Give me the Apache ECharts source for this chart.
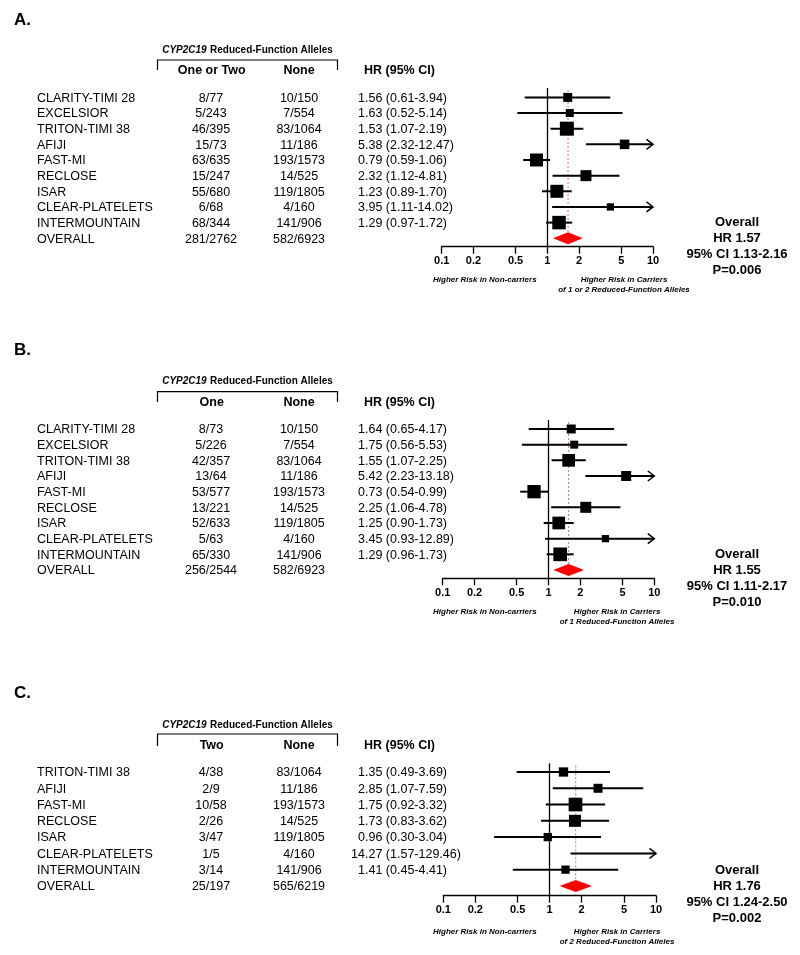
<!DOCTYPE html>
<html><head><meta charset="utf-8">
<script src="https://cdn.jsdelivr.net/npm/echarts@6/dist/echarts.min.js"></script>
<style>html,body{margin:0;padding:0;background:#fff}#c{width:800px;height:955px}</style>
</head><body><div id="c"></div><script>
// ---- data ----
const tickValues = [0.1, 0.2, 0.5, 1, 2, 5, 10];
const tickLabels = ['0.1', '0.2', '0.5', '1', '2', '5', '10'];

const studiesAB = ['CLARITY-TIMI 28','EXCELSIOR','TRITON-TIMI 38','AFIJI','FAST-MI','RECLOSE','ISAR','CLEAR-PLATELETS','INTERMOUNTAIN'];

const carriersA = ['8/77','5/243','46/395','15/73','63/635','15/247','55/680','6/68','68/344'];
const noncarriersA = ['10/150','7/554','83/1064','11/186','193/1573','14/525','119/1805','4/160','141/906'];
const hrA = [1.56, 1.63, 1.53, 5.38, 0.79, 2.32, 1.23, 3.95, 1.29];
const loA = [0.61, 0.52, 1.07, 2.32, 0.59, 1.12, 0.89, 1.11, 0.97];
const hiA = [3.94, 5.14, 2.19, 12.47, 1.06, 4.81, 1.70, 14.02, 1.72];
const weightA = [9, 8, 14, 9.5, 13, 11, 13, 7.3, 13.5];
const totalsA = ['281/2762', '582/6923'];
const overallA = [1.57, 1.13, 2.16, 0.006];

const carriersB = ['8/73','5/226','42/357','13/64','53/577','13/221','52/633','5/63','65/330'];
const noncarriersB = ['10/150','7/554','83/1064','11/186','193/1573','14/525','119/1805','4/160','141/906'];
const hrB = [1.64, 1.75, 1.55, 5.42, 0.73, 2.25, 1.25, 3.45, 1.29];
const loB = [0.65, 0.56, 1.07, 2.23, 0.54, 1.06, 0.90, 0.93, 0.96];
const hiB = [4.17, 5.53, 2.25, 13.18, 0.99, 4.78, 1.73, 12.89, 1.73];
const weightB = [9, 8, 12.7, 10, 13.3, 11, 12.7, 7.3, 13.7];
const totalsB = ['256/2544', '582/6923'];
const overallB = [1.55, 1.11, 2.17, 0.010];

const studiesC = ['TRITON-TIMI 38','AFIJI','FAST-MI','RECLOSE','ISAR','CLEAR-PLATELETS','INTERMOUNTAIN'];
const carriersC = ['4/38','2/9','10/58','2/26','3/47','1/5','3/14'];
const noncarriersC = ['83/1064','11/186','193/1573','14/525','119/1805','4/160','141/906'];
const hrC = [1.35, 2.85, 1.75, 1.73, 0.96, 14.27, 1.41];
const loC = [0.49, 1.07, 0.92, 0.83, 0.30, 1.57, 0.45];
const hiC = [3.69, 7.59, 3.32, 3.62, 3.04, 129.46, 4.41];
const weightC = [9.3, 9, 13.7, 12, 8.3, 8, 8.3];
const totalsC = ['25/197', '565/6219'];
const overallC = [1.76, 1.24, 2.50, 0.002];

const panelLabels = ['A.', 'B.', 'C.'];
const groupHeaders = ['One or Two', 'One', 'Two'];
const carrierNotes = ['of 1 or 2 Reduced-Function Alleles', 'of 1 Reduced-Function Alleles', 'of 2 Reduced-Function Alleles'];

// ---- layout (positions / styles only) ----
const FF = '"Liberation Sans", Arial, Helvetica, sans-serif';
const layout = [
  {grid:{left:441.7, top:88, width:211.3, height:158.7}, yMin:-0.6, yMax:9.54,
   label:20.7, cyp:50, bracket:60, bracketEnd:70, header:71, note:280, noteC:624},
  {grid:{left:442.7, top:420, width:211.6, height:158.3}, yMin:-0.574, yMax:9.53,
   label:350.7, cyp:381.7, bracket:391.7, bracketEnd:402, header:402.7, note:612, noteC:617},
  {grid:{left:443.3, top:763.3, width:212.7, height:132.4}, yMin:-0.534, yMax:7.6,
   label:693, cyp:725, bracket:734, bracketEnd:746, header:746, note:932, noteC:617}
];
const panels = [
  {studies:studiesAB, c1:carriersA, c2:noncarriersA, hr:hrA, lo:loA, hi:hiA, w:weightA, tot:totalsA, ov:overallA},
  {studies:studiesAB, c1:carriersB, c2:noncarriersB, hr:hrB, lo:loB, hi:hiB, w:weightB, tot:totalsB, ov:overallB},
  {studies:studiesC, c1:carriersC, c2:noncarriersC, hr:hrC, lo:loC, hi:hiC, w:weightC, tot:totalsC, ov:overallC}
];

const fmt = v => v.toFixed(2);
function txt(text, x, y, font, align, vAlign) {
  return {type:'text', style:{text, x, y, font, fill:'#000',
    align:align||'left', textAlign:align||'left', verticalAlign:vAlign||'middle', textVerticalAlign:vAlign||'middle'}};
}
const fReg = 'normal 12.5px ' + FF;
const fBold = 'bold 12.5px ' + FF;

const chart = echarts.init(document.getElementById('c'), null, {renderer:'canvas'});
const series = [];
const graphic = [];

panels.forEach((P, k) => {
  const L = layout[k];
  const n = P.studies.length;
  // forest rows
  series.push({
    type:'custom', xAxisIndex:k, yAxisIndex:k, clip:false, silent:true,
    data: P.hr.map((h, i) => [Math.log10(h), i]),
    encode:{x:0, y:1},
    renderItem(params, api) {
      const i = params.dataIndex;
      const y = api.coord([0, i])[1];
      const X = v => api.coord([Math.log10(v), i])[0];
      const ch = [];
      const xl = X(Math.max(P.lo[i], 0.1)), xh = X(Math.min(P.hi[i], 10));
      ch.push({type:'line', shape:{x1:xl, y1:y, x2:xh, y2:y}, style:{stroke:'#000', lineWidth:2}});
      if (P.hi[i] > 10) ch.push({type:'polyline', shape:{points:[[xh-6.5, y-5],[xh, y],[xh-6.5, y+5]]}, style:{stroke:'#000', lineWidth:1.5, fill:null}});
      if (P.hr[i] <= 10) {
        const xc = X(P.hr[i]), s = P.w[i];
        ch.push({type:'rect', shape:{x:xc-s/2, y:y-s/2, width:s, height:s}, style:{fill:'#000'}});
      }
      return {type:'group', children:ch};
    },
    markLine:{silent:true, symbol:'none', label:{show:false}, animation:false,
      lineStyle:{color:'#000', width:1.3, type:'solid'}, data:[{xAxis:0}]}
  });
  // overall diamond + dotted line + summary text
  series.push({
    type:'custom', xAxisIndex:k, yAxisIndex:k, clip:false, silent:true, z:1,
    data:[[Math.log10(P.ov[0]), n]], encode:{x:0, y:1},
    renderItem(params, api) {
      const y = api.coord([0, n])[1];
      const X = v => api.coord([Math.log10(v), n])[0];
      const xc = X(P.ov[0]), xl = X(P.ov[1]), xh = X(P.ov[2]);
      const yTop = api.coord([0, L.yMin])[1] + 2;
      const h = 6;
      return {type:'group', children:[
        {type:'line', shape:{x1:xc, y1:yTop, x2:xc, y2:y-h}, style:{stroke:'#e06666', lineWidth:1, lineDash:[2,2]}},
        {type:'polygon', shape:{points:[[xl, y],[xc, y-h],[xh, y],[xc, y+h]]}, style:{fill:'#ff0000'}},
        txt('Overall', 737, y-16, 'bold 13px ' + FF, 'center'),
        txt('HR ' + fmt(P.ov[0]), 737, y, 'bold 13px ' + FF, 'center'),
        txt('95% CI ' + fmt(P.ov[1]) + '-' + fmt(P.ov[2]), 737, y+16, 'bold 13px ' + FF, 'center'),
        txt('P=' + P.ov[3].toFixed(3), 737, y+32, 'bold 13px ' + FF, 'center')
      ]};
    }
  });
  // table text
  const rows = [];
  for (let i = 0; i <= n; i++) rows.push([0, i]);
  series.push({
    type:'custom', xAxisIndex:k, yAxisIndex:k, clip:false, silent:true,
    data: rows, encode:{x:0, y:1},
    renderItem(params, api) {
      const i = params.dataIndex;
      const y = api.coord([0, i])[1] + 0.8;
      const ch = [];
      if (i < n) {
        ch.push(txt(P.studies[i], 37, y, fReg, 'left'));
        ch.push(txt(P.c1[i], 211, y, fReg, 'center'));
        ch.push(txt(P.c2[i], 299, y, fReg, 'center'));
        const s = fmt(P.hr[i]) + ' (' + fmt(P.lo[i]) + '-' + fmt(P.hi[i]) + ')';
        const dot = s.indexOf('.');
        ch.push(txt(s.slice(0, dot), 365, y, fReg, 'right'));
        ch.push(txt(s.slice(dot), 365, y, fReg, 'left'));
      } else {
        ch.push(txt('OVERALL', 37, y, fReg, 'left'));
        ch.push(txt(P.tot[0], 211, y, fReg, 'center'));
        ch.push(txt(P.tot[1], 299, y, fReg, 'center'));
      }
      return {type:'group', children:ch};
    }
  });
  // headers
  graphic.push(txt(panelLabels[k], 14, L.label, 'bold 17px ' + FF, 'left'));
  graphic.push({type:'text', style:{text:'{i|CYP2C19} {b|Reduced-Function Alleles}', x:247.5, y:L.cyp,
    align:'center', textAlign:'center', verticalAlign:'middle', textVerticalAlign:'middle',
    rich:{i:{fontStyle:'italic', fontWeight:'bold', fontSize:10, fontFamily:FF, fill:'#000', color:'#000'},
          b:{fontWeight:'bold', fontSize:10, fontFamily:FF, fill:'#000', color:'#000'}}}});
  graphic.push({type:'polyline', shape:{points:[[157.5, L.bracketEnd],[157.5, L.bracket],[337.5, L.bracket],[337.5, L.bracketEnd]]},
    style:{stroke:'#000', lineWidth:1.2, fill:null}});
  graphic.push(txt(groupHeaders[k], 211.7, L.header, fBold, 'center'));
  graphic.push(txt('None', 299, L.header, fBold, 'center'));
  graphic.push(txt('HR (95% CI)', 364, L.header, fBold, 'left'));
  const fNote = 'italic bold 8px ' + FF;
  graphic.push(txt('Higher Risk in Non-carriers', 433, L.note, fNote, 'left'));
  graphic.push(txt('Higher Risk in Carriers', L.noteC, L.note, fNote, 'center'));
  graphic.push(txt(carrierNotes[k], L.noteC, L.note + 9.7, fNote, 'center'));
});

const logTicks = tickValues.map(Math.log10);
function tickLabel(v) {
  let best = 0, d = Infinity;
  logTicks.forEach((t, j) => { const dd = Math.abs(t - v); if (dd < d) { d = dd; best = j; } });
  return tickLabels[best];
}

chart.setOption({
  animation:false,
  backgroundColor:'#fff',
  grid: layout.map(L => Object.assign({containLabel:false}, L.grid)),
  xAxis: layout.map((L, k) => ({
    type:'value', gridIndex:k, min:-1, max:1,
    splitLine:{show:false},
    axisLine:{show:true, onZero:false, lineStyle:{color:'#000', width:1.3}},
    axisTick:{show:true, customValues:logTicks, length:7, lineStyle:{color:'#000', width:1.3}},
    axisLabel:{customValues:logTicks, formatter:tickLabel, color:'#000', fontWeight:'bold', fontSize:11, fontFamily:FF, margin:9}
  })),
  yAxis: layout.map((L, k) => ({
    type:'value', gridIndex:k, inverse:true, min:L.yMin, max:L.yMax, show:false,
    splitLine:{show:false}, axisLine:{show:false}, axisTick:{show:false}, axisLabel:{show:false}
  })),
  series,
  graphic
});
</script></body></html>
